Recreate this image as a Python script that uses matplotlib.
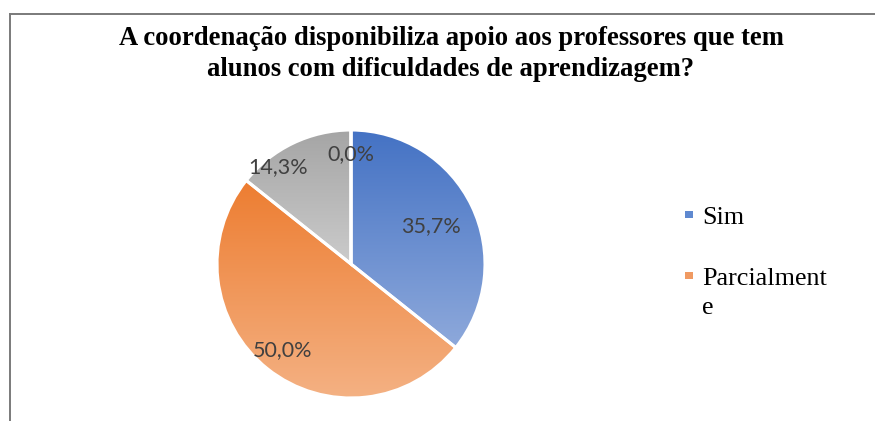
import numpy as np
import matplotlib
matplotlib.use("Agg")
import matplotlib.pyplot as plt
from matplotlib.colors import LinearSegmentedColormap
from matplotlib.patches import Rectangle
from matplotlib.lines import Line2D

# data
categories = ["Sim", "Parcialmente", "Não", "Não sei"]
counts = [5, 7, 2, 0]
legend_labels = ["Sim", "Parcialment\ne"]
top_colors = ["#4472C4", "#ED7D31", "#A5A5A5", "#FFC000"]
bottom_colors = ["#8EA9DB", "#F4B183", "#CBCBCB", "#FFD966"]
legend_colors = ["#5F89D0", "#F09A62"]

title = ("A coordenação disponibiliza apoio aos professores que tem\n"
         "alunos com dificuldades de aprendizagem?")

W, H = 875, 421
fig = plt.figure(figsize=(W / 100, H / 100), dpi=100)

# frame (top and left lines only)
fig.add_artist(Line2D([10 / W, 1], [1 - 14 / H, 1 - 14 / H],
                      color="#7a7a7a", lw=1.4, transform=fig.transFigure))
fig.add_artist(Line2D([10 / W, 10 / W], [0, 1 - 14 / H],
                      color="#7a7a7a", lw=1.4, transform=fig.transFigure))

fig.text(451 / W, 1 - 54 / H, title, ha="center", va="center",
         family="Liberation Serif", weight="bold", fontsize=19.2,
         linespacing=1.27)

# pie axes: center (351, 264) px, radius 134 px
ax = fig.add_axes([(351 - 134) / W, (H - 398) / H, 268 / W, 268 / H])

def fmt(p):
    return f"{p:.1f}%".replace(".", ",")

wedges, texts, autotexts = ax.pie(
    counts, startangle=90, counterclock=False, radius=1,
    autopct=fmt, pctdistance=0.66,
    wedgeprops=dict(facecolor="none", edgecolor="white", linewidth=2.2),
    textprops=dict(family="Lato", fontsize=15.5, color="#404040"))

# gradient fill for each wedge (dark at top, light at bottom)
for w, c1, c2 in zip(wedges, top_colors, bottom_colors):
    w.set_zorder(3)
    ext = w.get_path().get_extents()
    if ext.width <= 0 or ext.height <= 0:
        continue
    cmap = LinearSegmentedColormap.from_list("g", [c1, c2])
    grad = np.linspace(0, 1, 256).reshape(-1, 1)
    im = ax.imshow(grad, cmap=cmap, aspect="auto", origin="upper",
                   extent=[ext.x0, ext.x1, ext.y0, ext.y1], zorder=2,
                   interpolation="bilinear")
    im.set_clip_path(w)

# label positions adjusted like the original
ang = [25.7, -128.5, 127, 90]
dist = [0.66, 0.82, 0.91, 0.82]
for t, a, d in zip(autotexts, ang, dist):
    t.set_position((d * np.cos(np.radians(a)), d * np.sin(np.radians(a))))
    t.set_zorder(5)

ax.set_xlim(-1, 1)
ax.set_ylim(-1, 1)
ax.set_aspect("equal")
ax.axis("off")

# legend (only the first two entries are visible in the original)
leg_y = [214.5, 275.5]
for lab, col, y in zip(legend_labels, legend_colors, leg_y):
    fig.add_artist(Rectangle(((685) / W, 1 - (y + 3.5) / H), 8 / W, 7 / H,
                             facecolor=col, edgecolor="none",
                             transform=fig.transFigure))
    fig.text(702 / W, 1 - (y - 7.5) / H, lab, ha="left", va="top",
             family="Liberation Serif", fontsize=18.8, linespacing=1.4)

fig.savefig("out.png", dpi=100)
